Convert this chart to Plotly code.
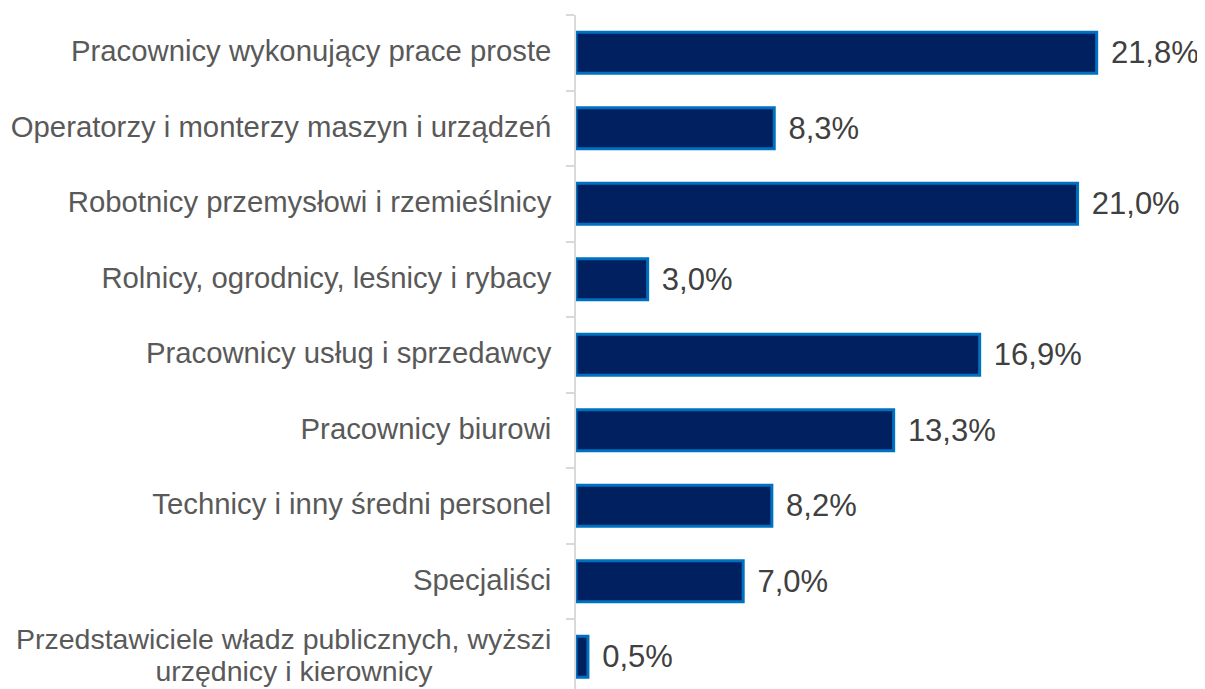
import plotly.graph_objects as go

categories = [
    "Pracownicy wykonujący prace proste",
    "Operatorzy i monterzy maszyn i urządzeń",
    "Robotnicy przemysłowi i rzemieślnicy",
    "Rolnicy, ogrodnicy, leśnicy i rybacy",
    "Pracownicy usług i sprzedawcy",
    "Pracownicy biurowi",
    "Technicy i inny średni personel",
    "Specjaliści",
    "Przedstawiciele władz publicznych, wyższi<br>urzędnicy i kierownicy",
]
values = [21.8, 8.3, 21.0, 3.0, 16.9, 13.3, 8.2, 7.0, 0.5]
value_labels = ["21,8%", "8,3%", "21,0%", "3,0%", "16,9%", "13,3%", "8,2%", "7,0%", "0,5%"]

# tick label text: base tick font is small (tight line spacing), spans set the visible size
tick_text = []
for c in categories:
    if "<br>" in c:
        first, second = c.split("<br>")
        tick_text.append(
            '<span style="font-size:28.5px">' + first + "</span><br>"
            + '<span style="font-size:28.5px">' + second + "\u00a0" * 15 + "</span>"
        )
    else:
        tick_text.append('<span style="font-size:29.3px">' + c + "</span>")

fig = go.Figure(
    go.Bar(
        y=categories,
        x=values,
        orientation="h",
        marker=dict(color="#002060", line=dict(color="#0070C0", width=3)),
        text=["\u00a0\u200a" + t for t in value_labels],
        textposition="outside",
        textfont=dict(family="Liberation Sans, Arial, sans-serif", size=31, color="#404040"),
        cliponaxis=False,
        hoverinfo="skip",
    )
)

fig.update_layout(
    width=1197,
    height=681,
    margin=dict(l=568, r=8, t=7, b=0, autoexpand=False),
    plot_bgcolor="white",
    paper_bgcolor="white",
    bargap=0.46,
    showlegend=False,
    font=dict(family="Liberation Sans, Arial, sans-serif", size=29.3, color="#595959"),
)
fig.update_xaxes(range=[0, 26], visible=False, showgrid=False, zeroline=False, automargin=False)
fig.update_yaxes(
    type="category",
    categoryorder="array",
    categoryarray=categories,
    tickmode="array",
    tickvals=categories,
    ticktext=tick_text,
    range=[674 / 75.5 - 0.5, -0.5],
    automargin=False,
    showline=True,
    linecolor="#d9d9d9",
    linewidth=1.5,
    ticks="outside",
    tickson="boundaries",
    ticklen=8,
    tickcolor="#d9d9d9",
    tickwidth=1.5,
    ticklabelstandoff=18,
    showgrid=False,
    zeroline=False,
    tickfont=dict(family="Liberation Sans, Arial, sans-serif", size=24.6, color="#595959"),
)

fig.write_html("out.html")
